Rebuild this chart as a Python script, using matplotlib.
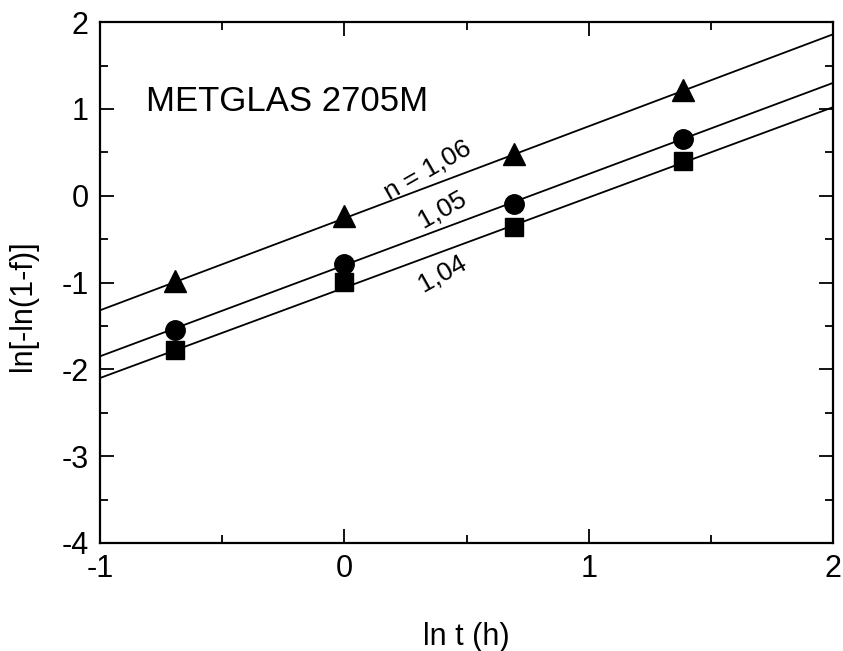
import numpy as np
import matplotlib
matplotlib.use("Agg")
import matplotlib.pyplot as plt
from matplotlib.ticker import MultipleLocator

plt.rcParams["font.family"] = ["Liberation Sans", "DejaVu Sans"]
plt.rcParams["axes.unicode_minus"] = False

# annealing times ln t (h) for 0.5, 1, 2, 4 h
ln_t = [-0.693, 0.0, 0.693, 1.386]

# ln[-ln(1-f)]
tri_y = [-0.98, -0.23, 0.48, 1.22]
circ_y = [-1.55, -0.79, -0.09, 0.65]
sq_y = [-1.78, -0.99, -0.36, 0.40]

# fitted lines (slope n, intercept)
slopes = [1.06, 1.05, 1.04]
intercepts = [-0.26, -0.80, -1.06]
line_labels = ["n = 1,06", "1,05", "1,04"]
label_x = [0.34, 0.40, 0.40]
label_y = [0.29, -0.15, -0.89]

fig = plt.figure(figsize=(8.43, 6.51), dpi=100)
ax = fig.add_axes([0.1186, 0.166, 0.8696, 0.800])

xfit = np.array([-1.0, 2.0])
for k, b in zip(slopes, intercepts):
    ax.plot(xfit, k * xfit + b, color="black", lw=1.3)

ax.plot(ln_t, tri_y, "^", color="black", ms=16, ls="none")
ax.plot(ln_t, circ_y, "o", color="black", ms=14, ls="none")
ax.plot(ln_t, sq_y, "s", color="black", ms=13, ls="none")

# rotate labels along the line direction on screen
fig.canvas.draw()
for txt, lx, ly, k in zip(line_labels, label_x, label_y, slopes):
    p1 = ax.transData.transform((0, 0))
    p2 = ax.transData.transform((1, k))
    ang = np.degrees(np.arctan2(p2[1] - p1[1], p2[0] - p1[0]))
    ax.text(lx, ly, txt, rotation=ang, rotation_mode="anchor",
            ha="center", va="center", fontsize=19)

ax.text(-0.81, 1.08, "METGLAS 2705M", fontsize=25, ha="left", va="center")

ax.set_xlim(-1, 2)
ax.set_ylim(-4, 2)
ax.xaxis.set_major_locator(MultipleLocator(1))
ax.xaxis.set_minor_locator(MultipleLocator(0.5))
ax.yaxis.set_major_locator(MultipleLocator(1))
ax.yaxis.set_minor_locator(MultipleLocator(0.5))
ax.tick_params(which="both", direction="in", top=True, right=True, width=1.3)
ax.tick_params(which="major", length=10, labelsize=22, pad=8)
ax.tick_params(which="minor", length=6)
for s in ax.spines.values():
    s.set_linewidth(1.6)

ax.set_xlabel("ln t (h)", fontsize=22, labelpad=27)
ax.set_ylabel("ln[-ln(1-f)]", fontsize=22)
ax.yaxis.set_label_coords(-0.085, 0.455)

fig.savefig("out.png", dpi=100)
